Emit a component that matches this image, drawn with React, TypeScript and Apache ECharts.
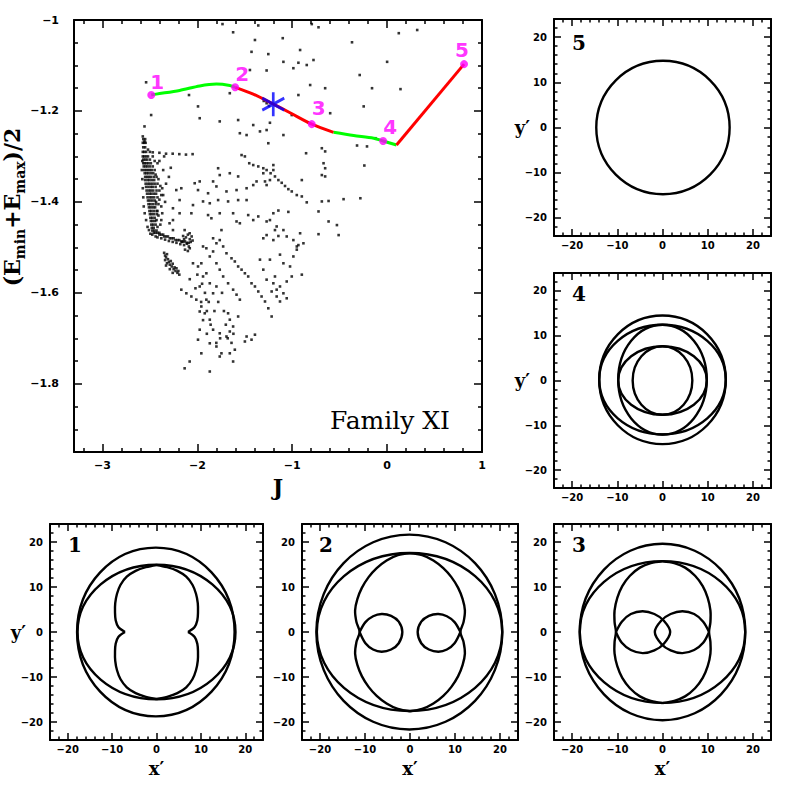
import React, { useEffect, useRef } from 'react';
import * as echarts from 'echarts';

// ---------------- main panel (Family XI) ----------------
const mainXRange = [-3.3, 1];
const mainYRange = [-1.95, -1];
const mainXMajor = [-3, -2, -1, 0, 1];
const mainXMinor = [-3.2, -2.8, -2.6, -2.4, -2.2, -1.8, -1.6, -1.4, -1.2, -0.8, -0.6, -0.4, -0.2, 0.2, 0.4, 0.6, 0.8];
const mainYMajor = [-1, -1.2, -1.4, -1.6, -1.8];
const mainYMinor = [-1.05, -1.1, -1.15, -1.25, -1.3, -1.35, -1.45, -1.5, -1.55, -1.65, -1.7, -1.75, -1.85, -1.9];

const sparseDots = [
  [-1.735, -1.009], [-1.623, -1.027], [-1.358, -1.012], [-0.794, -1.009], [-0.723, -1.016], [0.123, -1.029], [0.317, -1.022],
  [-0.37, -1.049], [-1.393, -1.044], [-1.1, -1.04], [-1.429, -1.07], [-1.252, -1.075], [-0.917, -1.066], [-1.093, -1.092],
  [-0.935, -1.094], [-0.776, -1.088], [-0.847, -1.099], [0.0, -1.092], [-1.446, -1.11], [-1.27, -1.111], [-0.988, -1.106],
  [-0.289, -1.121], [-0.653, -1.15], [-0.159, -1.15], [0.141, -1.152], [-0.811, -1.143], [-2.54, -1.137], [-2.088, -1.165],
  [-1.658, -1.161], [-0.935, -1.165], [-0.247, -1.19], [-0.6, -1.205], [-1.993, -1.19], [-2.487, -1.209], [-1.975, -1.216],
  [-1.764, -1.223], [-1.57, -1.22], [-1.411, -1.231], [-1.235, -1.226], [-1.005, -1.209], [-1.093, -1.253], [-1.552, -1.249],
  [-1.481, -1.253], [-1.34, -1.245], [-1.27, -1.242], [-1.252, -1.271], [-0.688, -1.282], [-0.854, -1.293], [-0.317, -1.276],
  [-0.212, -1.278], [-0.24, -1.32], [-0.282, -1.392], [-0.459, -1.394], [-2.557, -1.234], [-2.575, -1.256], [-2.557, -1.267],
  [-1.3, -1.178], [-1.27, -1.183], [-1.245, -1.189], [-0.123, -1.26],
  [-2.54, -1.29], [-2.47, -1.291], [-2.4, -1.292], [-2.33, -1.294], [-2.26, -1.294], [-2.19, -1.295], [-2.12, -1.296], [-2.05, -1.295],
];

const middleDots = [
  [-1.534, -1.297], [-1.499, -1.3], [-1.453, -1.315], [-1.411, -1.319], [-1.358, -1.322], [-1.305, -1.326], [-1.27, -1.33],
  [-1.228, -1.337], [-1.182, -1.344], [-1.146, -1.352], [-1.111, -1.358], [-1.076, -1.365], [-1.041, -1.372], [-1.005, -1.377],
  [-0.952, -1.385], [-0.899, -1.388], [-1.199, -1.319], [-1.199, -1.33], [-1.305, -1.337], [-1.376, -1.355], [-1.411, -1.363],
  [-1.287, -1.355], [-1.27, -1.363], [-1.235, -1.352], [-1.658, -1.337], [-1.764, -1.341], [-1.781, -1.326], [-1.57, -1.344],
  [-1.834, -1.355], [-1.975, -1.355], [-2.028, -1.359], [-1.993, -1.374], [-2.169, -1.37], [-2.222, -1.374], [-1.887, -1.381],
  [-1.799, -1.366], [-1.693, -1.377], [-1.587, -1.374], [-1.481, -1.37], [-0.653, -1.289], [-0.67, -1.315], [-0.653, -1.326],
  [-0.688, -1.341], [-0.653, -1.344], [-0.899, -1.352], [-0.847, -1.401], [-0.688, -1.399], [-0.617, -1.398], [-0.723, -1.421],
  [-0.617, -1.443], [-0.529, -1.451], [-0.511, -1.473], [-0.723, -1.471], [-0.917, -1.469], [-0.988, -1.484], [-0.952, -1.498],
  [-1.058, -1.476], [-1.146, -1.475], [-1.199, -1.484], [-1.27, -1.473], [-1.305, -1.48], [-1.146, -1.419], [-1.041, -1.422],
  [-1.199, -1.425], [-1.235, -1.44], [-1.27, -1.443], [-1.164, -1.454], [-1.182, -1.462], [-1.093, -1.462], [-1.358, -1.432],
  [-1.464, -1.429], [-1.411, -1.44], [-1.552, -1.447], [-1.587, -1.443], [-1.746, -1.462], [-1.852, -1.436], [-1.887, -1.429],
  [-1.764, -1.425], [-1.623, -1.425], [-1.481, -1.396], [-1.57, -1.396], [-1.676, -1.399], [-1.781, -1.396], [-1.869, -1.403],
  [-1.94, -1.399], [-2.046, -1.407], [-2.187, -1.396], [-2.257, -1.414], [-2.187, -1.425], [-2.063, -1.425], [-2.257, -1.44],
  [-2.293, -1.447], [-2.257, -1.462], [-2.134, -1.462], [-2.081, -1.469],
];

const bandDots = [
  [-2.57, -1.262], [-2.55, -1.262], [-2.575, -1.27], [-2.56, -1.27], [-2.545, -1.27], [-2.57, -1.28], [-2.55, -1.28],
  [-2.575, -1.29], [-2.56, -1.29], [-2.575, -1.3], [-2.56, -1.3], [-2.54, -1.3], [-2.52, -1.3],
  [-2.57, -1.307], [-2.55, -1.307], [-2.53, -1.307], [-2.5, -1.307],
  [-2.57, -1.315], [-2.555, -1.315], [-2.535, -1.315], [-2.515, -1.315], [-2.49, -1.315],
  [-2.565, -1.322], [-2.545, -1.322], [-2.525, -1.322], [-2.5, -1.322], [-2.47, -1.322],
  [-2.56, -1.33], [-2.54, -1.33], [-2.52, -1.33], [-2.5, -1.33], [-2.48, -1.33], [-2.45, -1.33],
  [-2.555, -1.337], [-2.535, -1.337], [-2.515, -1.337], [-2.49, -1.337], [-2.465, -1.337],
  [-2.55, -1.345], [-2.53, -1.345], [-2.51, -1.345], [-2.49, -1.345], [-2.46, -1.345], [-2.43, -1.345],
  [-2.55, -1.352], [-2.525, -1.352], [-2.505, -1.352], [-2.48, -1.352], [-2.455, -1.352],
  [-2.545, -1.36], [-2.52, -1.36], [-2.5, -1.36], [-2.475, -1.36], [-2.45, -1.36], [-2.42, -1.36],
  [-2.54, -1.367], [-2.515, -1.367], [-2.49, -1.367], [-2.47, -1.367], [-2.44, -1.367],
  [-2.535, -1.375], [-2.51, -1.375], [-2.49, -1.375], [-2.465, -1.375], [-2.43, -1.375], [-2.4, -1.375],
  [-2.53, -1.382], [-2.505, -1.382], [-2.485, -1.382], [-2.46, -1.382], [-2.435, -1.382],
  [-2.525, -1.39], [-2.5, -1.39], [-2.48, -1.39], [-2.455, -1.39], [-2.42, -1.39],
  [-2.52, -1.397], [-2.5, -1.397], [-2.475, -1.397], [-2.45, -1.397],
  [-2.515, -1.405], [-2.495, -1.405], [-2.47, -1.405], [-2.44, -1.405], [-2.41, -1.405],
  [-2.51, -1.412], [-2.49, -1.412], [-2.465, -1.412], [-2.445, -1.412],
  [-2.505, -1.42], [-2.485, -1.42], [-2.46, -1.42], [-2.43, -1.42],
  [-2.5, -1.427], [-2.48, -1.427], [-2.455, -1.427], [-2.425, -1.427],
  [-2.495, -1.435], [-2.475, -1.435], [-2.45, -1.435], [-2.49, -1.442], [-2.47, -1.442], [-2.445, -1.442],
  [-2.485, -1.45], [-2.465, -1.45], [-2.44, -1.45], [-2.48, -1.457], [-2.46, -1.457],
  [-2.475, -1.463], [-2.455, -1.463], [-2.43, -1.463], [-2.46, -1.468], [-2.44, -1.468], [-2.42, -1.468], [-2.4, -1.468],
  [-2.4, -1.472], [-2.38, -1.472], [-2.36, -1.472], [-2.35, -1.476], [-2.33, -1.476], [-2.31, -1.476],
  [-2.29, -1.48], [-2.27, -1.48], [-2.25, -1.48], [-2.23, -1.484], [-2.21, -1.484], [-2.19, -1.484],
  [-2.17, -1.487], [-2.15, -1.487], [-2.13, -1.487], [-2.11, -1.49], [-2.09, -1.49],
  [-2.15, -1.475], [-2.12, -1.478], [-2.1, -1.472], [-2.08, -1.482], [-2.06, -1.476], [-2.14, -1.495], [-2.11, -1.492],
  [-2.09, -1.498], [-2.07, -1.488], [-2.05, -1.485], [-2.13, -1.505], [-2.1, -1.508], [-2.08, -1.502], [-2.16, -1.488],
  [-2.4, -1.31], [-2.36, -1.33], [-2.33, -1.36], [-2.3, -1.345], [-2.38, -1.385], [-2.34, -1.4], [-2.42, -1.42],
  [-2.38, -1.44], [-2.28, -1.325], [-2.35, -1.3],
  [-2.42, -1.315], [-2.44, -1.34], [-2.41, -1.35], [-2.39, -1.365], [-2.37, -1.37], [-2.4, -1.395], [-2.38, -1.41],
  [-2.36, -1.385], [-2.41, -1.43], [-2.39, -1.45], [-2.42, -1.455], [-2.37, -1.425], [-2.435, -1.4], [-2.43, -1.44],
  [-2.45, -1.31], [-2.47, -1.3], [-2.5, -1.29], [-2.52, -1.285], [-2.58, -1.31], [-2.585, -1.33], [-2.58, -1.35],
  [-2.575, -1.37], [-2.57, -1.39], [-2.565, -1.41], [-2.555, -1.425], [-2.54, -1.44], [-2.525, -1.455], [-2.51, -1.462],
  [-2.495, -1.47], [-2.475, -1.472], [-2.44, -1.476], [-2.42, -1.478], [-2.38, -1.48], [-2.34, -1.483], [-2.3, -1.486],
  [-2.26, -1.488], [-2.22, -1.49], [-2.18, -1.493], [-2.14, -1.482],
  [-2.35, -1.512], [-2.34, -1.518], [-2.33, -1.522], [-2.32, -1.515], [-2.34, -1.528], [-2.31, -1.526], [-2.3, -1.532],
  [-2.32, -1.535], [-2.29, -1.538], [-2.28, -1.53], [-2.27, -1.542], [-2.26, -1.536], [-2.29, -1.548], [-2.25, -1.548],
  [-2.24, -1.544], [-2.23, -1.552], [-2.22, -1.546], [-2.21, -1.556], [-2.2, -1.552], [-2.19, -1.56], [-2.26, -1.556], [-2.33, -1.54],
];

const lowerDots = [
  [-2.169, -1.593], [-2.116, -1.601], [-2.063, -1.608], [-2.011, -1.615], [-1.975, -1.586], [-1.94, -1.564], [-1.905, -1.557],
  [-1.993, -1.542], [-2.046, -1.535], [-1.958, -1.535], [-1.869, -1.52], [-1.834, -1.509], [-1.905, -1.502], [-1.94, -1.498],
  [-1.834, -1.48], [-1.799, -1.491], [-1.764, -1.484], [-1.728, -1.498], [-1.693, -1.513], [-1.64, -1.524], [-1.605, -1.531],
  [-1.57, -1.542], [-1.534, -1.549], [-1.499, -1.557], [-1.464, -1.564], [-1.429, -1.579], [-1.393, -1.586], [-1.358, -1.597],
  [-1.323, -1.608], [-1.287, -1.619], [-1.252, -1.634], [-1.217, -1.652], [-1.799, -1.535], [-1.764, -1.549], [-1.728, -1.564],
  [-1.676, -1.579], [-1.623, -1.593], [-1.587, -1.604], [-1.552, -1.615], [-1.676, -1.645], [-1.658, -1.659], [-1.623, -1.674],
  [-1.57, -1.652], [-1.658, -1.685], [-1.693, -1.696], [-1.764, -1.689], [-1.834, -1.681], [-1.869, -1.659], [-1.922, -1.645],
  [-1.958, -1.63], [-1.905, -1.615], [-1.834, -1.601], [-1.799, -1.586], [-1.869, -1.579], [-1.975, -1.641], [-1.975, -1.681],
  [-1.993, -1.703], [-1.958, -1.733], [-1.869, -1.711], [-1.799, -1.718], [-1.746, -1.733], [-1.658, -1.733], [-1.605, -1.725],
  [-1.499, -1.707], [-1.429, -1.703], [-1.393, -1.692], [-1.481, -1.696], [-2.134, -1.766], [-2.081, -1.751], [-1.869, -1.773],
  [-1.764, -1.74], [-1.623, -1.751], [-1.129, -1.516], [-1.093, -1.535], [-1.023, -1.542], [-0.988, -1.52], [-0.952, -1.505],
  [-0.935, -1.495], [-0.882, -1.491], [-0.899, -1.56], [-1.005, -1.564], [-1.058, -1.575], [-1.129, -1.586], [-1.164, -1.593],
  [-1.093, -1.601], [-1.058, -1.612], [-1.129, -1.619], [-1.164, -1.608], [-1.217, -1.597], [-1.27, -1.571], [-1.305, -1.549],
  [-1.34, -1.527], [-1.235, -1.527], [-1.182, -1.564], [-1.199, -1.579],
  [-1.95, -1.58], [-1.92, -1.6], [-1.88, -1.62], [-1.9, -1.64], [-1.94, -1.66], [-1.86, -1.67], [-1.82, -1.64], [-1.78, -1.62],
  [-1.74, -1.6], [-1.72, -1.64], [-1.7, -1.67], [-1.68, -1.7], [-1.76, -1.7], [-1.8, -1.71], [-1.64, -1.71], [-1.62, -1.69],
  [-1.9, -1.69], [-2.02, -1.59], [-2.08, -1.57], [-2.0, -1.56], [-1.96, -1.62],
];

const pathGreenA = [[-2.486, -1.165], [-2.434, -1.163], [-2.187, -1.155], [-1.975, -1.145], [-1.799, -1.141], [-1.658, -1.144], [-1.601, -1.148]];
const pathRedA = [[-1.601, -1.148], [-1.411, -1.163], [-1.199, -1.185], [-1.023, -1.204], [-0.794, -1.229], [-0.564, -1.247]];
const pathGreenB = [[-0.564, -1.247], [-0.353, -1.254], [-0.141, -1.26], [-0.042, -1.266], [0.099, -1.275]];
const pathRedB = [[0.099, -1.275], [0.811, -1.097]];
const markedOrbits: [number, number, string][] = [
  [-2.486, -1.165, '1'], [-1.602, -1.148, '2'], [-0.794, -1.229, '3'], [-0.042, -1.266, '4'], [0.811, -1.097, '5'],
];
const starPoint = [[-1.2, -1.185]];

// ---------------- orbit panels ----------------
const orbitRange = [-24, 24];
const orbitMajor = [-20, -10, 0, 10, 20];
const orbitMinor = [-22, -18, -16, -14, -12, -8, -6, -4, -2, 2, 4, 6, 8, 12, 14, 16, 18, 22];

// ellipses: [cx, cy, rx, ry]
const orbit5Ellipses = [[0.1, 0, 14.75, 14.75]];
const orbit4Ellipses = [[0, 0.15, 14.0, 14.35], [0, 0.2, 14.0, 12.25], [0, 0.2, 9.8, 12.25], [0, 0, 9.8, 7.65], [0, 0, 6.6, 7.65]];
const orbit1Ellipses = [[-0.15, 0, 17.75, 18.75], [0, 0, 17.8, 14.95]];
const orbit2Ellipses = [[-0.15, 0, 20.65, 21.65], [-0.1, 0, 20.6, 17.55]];
const orbit3Ellipses = [[0, 0, 18.3, 19.6], [0, 0, 18.3, 15.75]];

const orbit1Paths = [
  [[0, 14.9], [-2.4, 14.4], [-4.7, 13.6], [-6.7, 12.3], [-8.1, 10.5], [-8.9, 8.5], [-9.3, 6.4], [-9.35, 4.4], [-9.2, 2.6], [-8.6, 1.1], [-7.1, 0]],
  [[-7.1, 0], [-8.6, -1.1], [-9.2, -2.6], [-9.35, -4.4], [-9.3, -6.4], [-8.9, -8.5], [-8.1, -10.5], [-6.7, -12.3], [-4.7, -13.6], [-2.4, -14.4], [0, -14.9]],
  [[0, -14.9], [2.4, -14.4], [4.7, -13.6], [6.7, -12.3], [8.1, -10.5], [8.9, -8.5], [9.3, -6.4], [9.35, -4.4], [9.2, -2.6], [8.6, -1.1], [7.1, 0]],
  [[7.1, 0], [8.6, 1.1], [9.2, 2.6], [9.35, 4.4], [9.3, 6.4], [8.9, 8.5], [8.1, 10.5], [6.7, 12.3], [4.7, 13.6], [2.4, 14.4], [0, 14.9]],
];
const orbit2Paths = [
  [[0, 17.5], [-2.7, 17.1], [-5.2, 15.9], [-7.4, 14.2], [-9.2, 12.2], [-10.7, 9.8], [-11.7, 7.3], [-12.2, 4.8], [-11.9, 2.2], [-11.2, 0],
    [-11.9, -2.2], [-12.2, -4.8], [-11.7, -7.3], [-10.7, -9.8], [-9.2, -12.2], [-7.4, -14.2], [-5.2, -15.9], [-2.7, -17.1], [0, -17.6]],
  [[0, 17.5], [2.7, 17.1], [5.2, 15.9], [7.4, 14.2], [9.2, 12.2], [10.7, 9.8], [11.7, 7.3], [12.2, 4.8], [11.9, 2.2], [11.2, 0],
    [11.9, -2.2], [12.2, -4.8], [11.7, -7.3], [10.7, -9.8], [9.2, -12.2], [7.4, -14.2], [5.2, -15.9], [2.7, -17.1], [0, -17.6]],
  [[-11.2, 0], [-9.9, -2.5], [-8.2, -3.9], [-6.3, -4.4], [-4.2, -3.9], [-2.5, -2.5], [-1.7, 0], [-2.5, 2.3], [-4.2, 3.6], [-6.3, 4.0], [-8.2, 3.5], [-9.9, 2.2], [-11.2, 0]],
  [[11.2, 0], [9.9, -2.5], [8.2, -3.9], [6.3, -4.4], [4.2, -3.9], [2.5, -2.5], [1.7, 0], [2.5, 2.3], [4.2, 3.6], [6.3, 4.0], [8.2, 3.5], [9.9, 2.2], [11.2, 0]],
];
const orbit3Paths = [
  [[0, 15.7], [-2.6, 15.3], [-5, 14.3], [-7.2, 12.5], [-8.9, 10.2], [-10, 7.6], [-10.6, 4.8], [-10.6, 2.2], [-10.3, 0],
    [-10.6, -2.2], [-10.6, -4.8], [-10, -7.6], [-8.9, -10.2], [-7.2, -12.5], [-5, -14.3], [-2.6, -15.3], [0, -15.8]],
  [[0, 15.7], [2.6, 15.3], [5, 14.3], [7.2, 12.5], [8.9, 10.2], [10, 7.6], [10.6, 4.8], [10.6, 2.2], [10.3, 0],
    [10.6, -2.2], [10.6, -4.8], [10, -7.6], [8.9, -10.2], [7.2, -12.5], [5, -14.3], [2.6, -15.3], [0, -15.8]],
  [[-10.3, 0], [-9, -2.4], [-7, -4], [-4.4, -4.7], [-1.8, -4.1], [0.3, -2.6], [1.7, 0], [0.3, 2.5], [-1.8, 4], [-4.4, 4.6], [-7, 4], [-9, 2.3], [-10.3, 0]],
  [[10.3, 0], [9, -2.4], [7, -4], [4.4, -4.7], [1.8, -4.1], [-0.3, -2.6], [-1.7, 0], [-0.3, 2.5], [1.8, 4], [4.4, 4.6], [7, 4], [9, 2.3], [10.3, 0]],
];

// ---------------- option building ----------------
const fmt = (v: number) => String(v).replace('-', '\u2212');

function buildOption() {
  const grids: any[] = [];
  const xAxes: any[] = [];
  const yAxes: any[] = [];
  const series: any[] = [];

  const axisDef = (gi: number, pos: string, range: number[], vals: number[], len: number, line: boolean, label: any, extra: any = {}) => ({
    type: 'value', gridIndex: gi, position: pos, min: range[0], max: range[1],
    axisLine: { show: line, onZero: false, lineStyle: { color: '#000', width: 2 } },
    axisTick: { show: true, inside: true, length: len, customValues: vals, lineStyle: { color: '#000', width: 1.5 } },
    axisLabel: label ? { show: true, customValues: vals, formatter: fmt, color: '#000', fontFamily: 'DejaVu Sans', fontWeight: 'bold', ...label } : { show: false },
    splitLine: { show: false }, minorTick: { show: false }, axisPointer: { show: false }, silent: true,
    nameMoveOverlap: false,
    ...extra,
  });

  const addGrid = (rect: number[], xr: number[], yr: number[], xMaj: number[], xMin: number[], yMaj: number[], yMin: number[],
    majLen: number, minLen: number, xLabel: any, yLabel: any, xExtra: any, yExtra: any) => {
    const gi = grids.length;
    grids.push({ left: rect[0], top: rect[1], width: rect[2], height: rect[3], containLabel: false, outerBoundsMode: 'none', show: false });
    const xi = xAxes.length;
    xAxes.push(axisDef(gi, 'bottom', xr, xMaj, majLen, true, xLabel, xExtra));
    xAxes.push(axisDef(gi, 'bottom', xr, xMin, minLen, false, null));
    xAxes.push(axisDef(gi, 'top', xr, xMaj, majLen, true, null));
    xAxes.push(axisDef(gi, 'top', xr, xMin, minLen, false, null));
    const yi = yAxes.length;
    yAxes.push(axisDef(gi, 'left', yr, yMaj, majLen, true, yLabel, yExtra));
    yAxes.push(axisDef(gi, 'left', yr, yMin, minLen, false, null));
    yAxes.push(axisDef(gi, 'right', yr, yMaj, majLen, true, null));
    yAxes.push(axisDef(gi, 'right', yr, yMin, minLen, false, null));
    return { xi, yi };
  };

  // main panel
  const m = addGrid([74, 20, 408, 432], mainXRange, mainYRange, mainXMajor, mainXMinor, mainYMajor, mainYMinor, 8, 4,
    { fontSize: 11, margin: 8 }, { fontSize: 11, margin: 15 },
    { name: 'J', nameLocation: 'middle', nameGap: 24, nameTextStyle: { fontFamily: 'DejaVu Serif', fontWeight: 'bold', fontSize: 22, color: '#000' } },
    {
      name: '{a|(E}{b|min}{a|+E}{b|max}{a|)/2}', nameLocation: 'middle', nameRotate: 90, nameGap: 47,
      nameTextStyle: {
        padding: [0, 0, 0, 58], color: '#000',
        rich: {
          a: { fontFamily: 'DejaVu Serif', fontWeight: 'bold', fontSize: 22, lineHeight: 30, color: '#000', verticalAlign: 'middle' },
          b: { fontFamily: 'DejaVu Serif', fontWeight: 'bold', fontSize: 14, lineHeight: 14, color: '#000', verticalAlign: 'bottom' },
        },
      },
    });

  const allDots = [...sparseDots, ...middleDots, ...bandDots, ...lowerDots];
  series.push({ type: 'scatter', xAxisIndex: m.xi, yAxisIndex: m.yi, data: allDots, symbol: 'rect', symbolSize: 2.6, itemStyle: { color: '#000' }, silent: true, z: 2 });
  const segs: [number[][], string][] = [[pathGreenA, '#00ff00'], [pathRedA, '#ff0000'], [pathGreenB, '#00ff00'], [pathRedB, '#ff0000']];
  segs.forEach(([d, c]) => series.push({
    type: 'line', xAxisIndex: m.xi, yAxisIndex: m.yi, data: d, showSymbol: false, symbol: 'none', smooth: 0.3,
    lineStyle: { color: c, width: 3 }, silent: true, z: 3,
  }));
  const labelOffsets: Record<string, number[]> = { '1': [6, -13], '2': [7, -13], '3': [7, -16], '4': [7, -14], '5': [-2, -14] };
  series.push({
    type: 'scatter', xAxisIndex: m.xi, yAxisIndex: m.yi, symbol: 'circle', symbolSize: 8, itemStyle: { color: '#ff00ff' }, silent: true, z: 4,
    data: markedOrbits.map(([x, y, l]) => ({
      value: [x, y], name: l,
      label: { show: true, formatter: '{b}', position: [4 + labelOffsets[l][0], 4 + labelOffsets[l][1]], align: 'center', verticalAlign: 'middle',
        color: '#ff00ff', fontFamily: 'DejaVu Sans', fontWeight: 'bold', fontSize: 20 },
    })),
  });
  series.push({
    type: 'scatter', xAxisIndex: m.xi, yAxisIndex: m.yi, data: starPoint, silent: true, z: 5,
    symbol: 'path://M11,0 L11,24 M0,6 L22,18 M0,18 L22,6', symbolSize: [22, 24],
    itemStyle: { color: 'rgba(0,0,0,0)', borderColor: '#0000ff', borderWidth: 2.8 },
  });

  // orbit panels
  const panels = [
    { rect: [554, 19, 217, 217], ell: orbit5Ellipses, paths: [] as number[][][], xName: false, yName: true },
    { rect: [554, 273, 217, 215], ell: orbit4Ellipses, paths: [] as number[][][], xName: false, yName: true },
    { rect: [50, 524, 213, 216], ell: orbit1Ellipses, paths: orbit1Paths, xName: true, yName: true },
    { rect: [302, 524, 216, 216], ell: orbit2Ellipses, paths: orbit2Paths, xName: true, yName: false },
    { rect: [554, 524, 217, 216], ell: orbit3Ellipses, paths: orbit3Paths, xName: true, yName: false },
  ];
  const nameStyle = { fontFamily: 'DejaVu Serif', fontWeight: 'bold', fontSize: 18, color: '#000' };
  const orbitLine = { fill: 'none', stroke: '#000', lineWidth: 2.4 };
  panels.forEach((p) => {
    const a = addGrid(p.rect, orbitRange, orbitRange, orbitMajor, orbitMinor, orbitMajor, orbitMinor, 7, 3.5,
      { fontSize: 10, margin: 4 }, { fontSize: 10, margin: 7 },
      p.xName ? { name: 'x\u2032', nameLocation: 'middle', nameGap: 19, nameTextStyle: nameStyle } : {},
      p.yName ? { name: 'y\u2032', nameLocation: 'middle', nameRotate: 0, nameGap: 24, nameTextStyle: nameStyle } : {});
    const ells = p.ell;
    series.push({
      type: 'custom', xAxisIndex: a.xi, yAxisIndex: a.yi, data: ells, silent: true, clip: true,
      renderItem: (params: any, api: any) => {
        const c = api.coord([api.value(0), api.value(1)]);
        const s = api.size([api.value(2), api.value(3)]);
        return { type: 'ellipse', shape: { cx: c[0], cy: c[1], rx: s[0], ry: s[1] }, style: orbitLine };
      },
    });
    if (p.paths.length) {
      const paths = p.paths;
      series.push({
        type: 'custom', xAxisIndex: a.xi, yAxisIndex: a.yi, data: paths.map((q) => q[0]), silent: true, clip: true,
        renderItem: (params: any, api: any) => ({
          type: 'polyline',
          shape: { points: paths[params.dataIndex].map((pt) => api.coord(pt)), smooth: 0.33 },
          style: orbitLine,
        }),
      });
    }
  });

  const numFont = 'bold 20px "DejaVu Serif"';
  const graphic = [
    { type: 'text', x: 330, y: 408, style: { text: 'Family XI', font: '25px "DejaVu Serif"', fill: '#000' } },
    { type: 'text', x: 572, y: 33, style: { text: '5', font: numFont, fill: '#000' } },
    { type: 'text', x: 572, y: 284, style: { text: '4', font: numFont, fill: '#000' } },
    { type: 'text', x: 68, y: 535, style: { text: '1', font: numFont, fill: '#000' } },
    { type: 'text', x: 319, y: 535, style: { text: '2', font: numFont, fill: '#000' } },
    { type: 'text', x: 572, y: 535, style: { text: '3', font: numFont, fill: '#000' } },
  ];

  return { animation: false, backgroundColor: '#fff', grid: grids, xAxis: xAxes, yAxis: yAxes, series, graphic };
}

export default function App() {
  const ref = useRef<HTMLDivElement>(null);
  useEffect(() => {
    const chart = echarts.init(ref.current!, null, { renderer: 'svg' });
    chart.setOption(buildOption() as any);
    return () => chart.dispose();
  }, []);
  return <div ref={ref} style={{ position: 'fixed', left: 0, top: 0, width: 789, height: 789, background: '#fff' }} />;
}
